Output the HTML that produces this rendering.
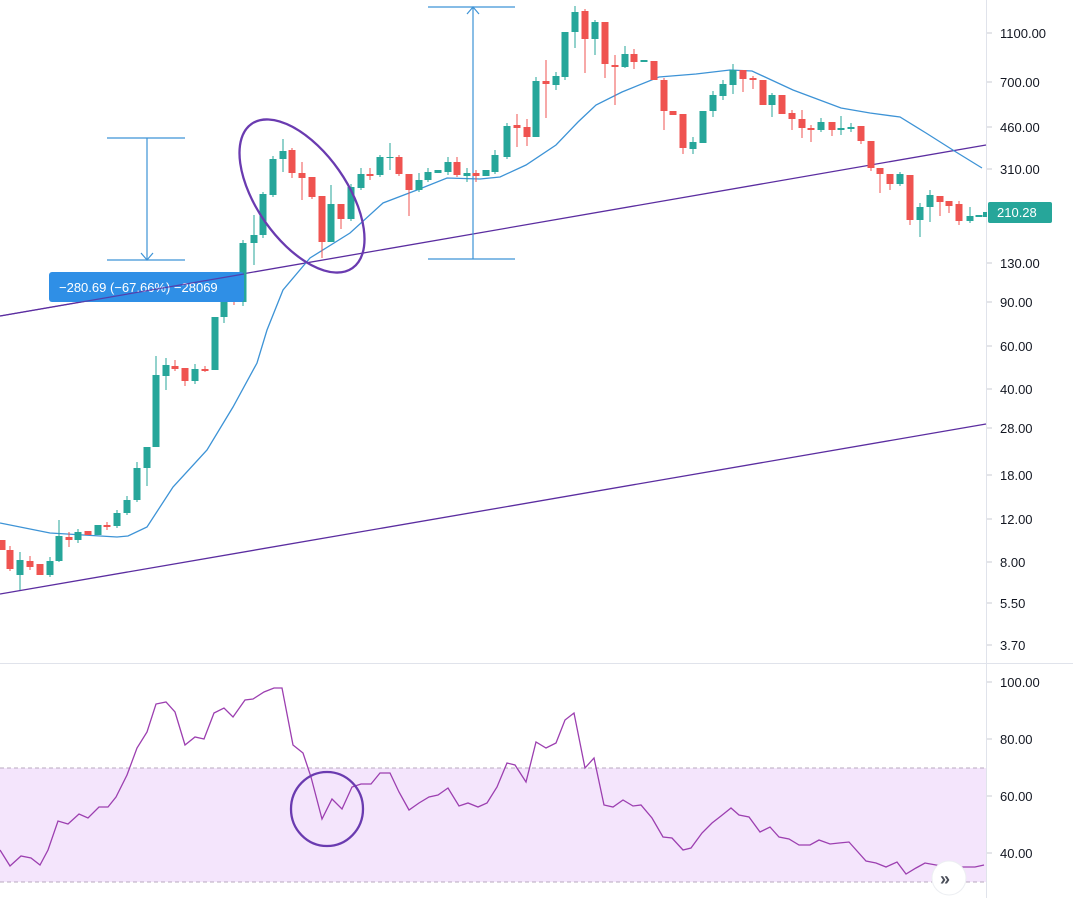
<!DOCTYPE html>
<html><head><meta charset="utf-8"><style>
html,body{margin:0;padding:0;background:#fff;width:1073px;height:898px;overflow:hidden}
svg{display:block}
text{font-family:"Liberation Sans",sans-serif}
</style></head><body>
<svg width="1073" height="898" viewBox="0 0 1073 898" xmlns="http://www.w3.org/2000/svg">
<rect width="1073" height="898" fill="#fff"/>
<!-- RSI band -->
<rect x="0" y="768" width="986" height="114" fill="#f4e5fc"/>
<line x1="0" y1="768" x2="986" y2="768" stroke="#b9a9bf" stroke-dasharray="4,3"/>
<line x1="0" y1="882" x2="986" y2="882" stroke="#b9a9bf" stroke-dasharray="4,3"/>
<!-- separators -->
<line x1="0" y1="663.5" x2="1073" y2="663.5" stroke="#e0e3eb"/>
<line x1="986.5" y1="0" x2="986.5" y2="898" stroke="#e0e3eb"/>
<!-- trend lines -->
<line x1="0" y1="316" x2="986" y2="145" stroke="#5b2da0" stroke-width="1.3"/>
<line x1="0" y1="594" x2="986" y2="424" stroke="#5b2da0" stroke-width="1.3"/>
<!-- MA -->
<polyline fill="none" stroke="#3d93d6" stroke-width="1.3" points="0,523 50,533 117,537 128,536 147,527 173,487 207,450 233,407 257,363 267,330 283,290 310,258 350,233 383,203 417,190 447,178 480,179 500,177 526,165 556,145 578,122 596,105 622,92 659,77 696,74 730,70 752,71 793,90 841,108 870,113 900,117 926,133 956,152 982,168"/>
<!-- measure tools -->
<g stroke="#3d93d6" stroke-width="1.2" fill="none">
<line x1="107" y1="138" x2="185" y2="138"/><line x1="107" y1="260" x2="185" y2="260"/>
<line x1="147" y1="138" x2="147" y2="260"/><polyline points="141,253 147,260 153,253"/>
<line x1="428" y1="7" x2="515" y2="7"/><line x1="428" y1="259" x2="515" y2="259"/>
<line x1="473" y1="7" x2="473" y2="259"/><polyline points="467,14 473,7 479,14"/>
</g>
<!-- candles -->
<g fill="#26a69a">
<rect x="16.5" y="560" width="7" height="15"/><rect x="19.5" y="552" width="1" height="38"/>
<rect x="46.5" y="561" width="7" height="14"/><rect x="49.5" y="557" width="1" height="20"/>
<rect x="55.5" y="536" width="7" height="25"/><rect x="58.5" y="520" width="1" height="42"/>
<rect x="74.5" y="532" width="7" height="8"/><rect x="77.5" y="529" width="1" height="14"/>
<rect x="94.5" y="525" width="7" height="10"/>
<rect x="113.5" y="513" width="7" height="13"/><rect x="116.5" y="510" width="1" height="18"/>
<rect x="123.5" y="500" width="7" height="13"/><rect x="126.5" y="496" width="1" height="19"/>
<rect x="133.5" y="468" width="7" height="32"/><rect x="136.5" y="462" width="1" height="40"/>
<rect x="143.5" y="447" width="7" height="21"/><rect x="146.5" y="447" width="1" height="39"/>
<rect x="152.5" y="375" width="7" height="72"/><rect x="155.5" y="356" width="1" height="91"/>
<rect x="162.5" y="365" width="7" height="11"/><rect x="165.5" y="358" width="1" height="32"/>
<rect x="191.5" y="369" width="7" height="12"/><rect x="194.5" y="364" width="1" height="20"/>
<rect x="211.5" y="317" width="7" height="53"/>
<rect x="220.5" y="300" width="7" height="17"/><rect x="223.5" y="297" width="1" height="26"/>
<rect x="239.5" y="243" width="7" height="59"/><rect x="242.5" y="240" width="1" height="66"/>
<rect x="250.5" y="235" width="7" height="8"/><rect x="253.5" y="215" width="1" height="50"/>
<rect x="259.5" y="194" width="7" height="41"/><rect x="262.5" y="192" width="1" height="46"/>
<rect x="269.5" y="159" width="7" height="36"/><rect x="272.5" y="156" width="1" height="41"/>
<rect x="279.5" y="151" width="7" height="8"/><rect x="282.5" y="139" width="1" height="33"/>
<rect x="327.5" y="204" width="7" height="38"/><rect x="330.5" y="185" width="1" height="57"/>
<rect x="347.5" y="187" width="7" height="32"/><rect x="350.5" y="184" width="1" height="37"/>
<rect x="357.5" y="174" width="7" height="14"/><rect x="360.5" y="168" width="1" height="22"/>
<rect x="376.5" y="157" width="7" height="18"/><rect x="379.5" y="155" width="1" height="22"/>
<rect x="386.5" y="157" width="7" height="1"/><rect x="389.5" y="143" width="1" height="27"/>
<rect x="415.5" y="180" width="7" height="10"/><rect x="418.5" y="173" width="1" height="19"/>
<rect x="424.5" y="172" width="7" height="8"/><rect x="427.5" y="168" width="1" height="14"/>
<rect x="434.5" y="170" width="7" height="3"/>
<rect x="444.5" y="162" width="7" height="10"/><rect x="447.5" y="157" width="1" height="18"/>
<rect x="463.5" y="173" width="7" height="3"/><rect x="466.5" y="168" width="1" height="14"/>
<rect x="482.5" y="170" width="7" height="6"/>
<rect x="491.5" y="155" width="7" height="17"/><rect x="494.5" y="150" width="1" height="24"/>
<rect x="503.5" y="126" width="7" height="31"/><rect x="506.5" y="123" width="1" height="36"/>
<rect x="532.5" y="81" width="7" height="56"/><rect x="535.5" y="77" width="1" height="60"/>
<rect x="552.5" y="76" width="7" height="9"/><rect x="555.5" y="72" width="1" height="18"/>
<rect x="561.5" y="32" width="7" height="45"/><rect x="564.5" y="32" width="1" height="48"/>
<rect x="571.5" y="12" width="7" height="20"/><rect x="574.5" y="6" width="1" height="42"/>
<rect x="591.5" y="22" width="7" height="17"/><rect x="594.5" y="20" width="1" height="35"/>
<rect x="621.5" y="54" width="7" height="13"/><rect x="624.5" y="46" width="1" height="22"/>
<rect x="640.5" y="60" width="7" height="2"/>
<rect x="689.5" y="142" width="7" height="7"/><rect x="692.5" y="137" width="1" height="17"/>
<rect x="699.5" y="111" width="7" height="32"/>
<rect x="709.5" y="95" width="7" height="16"/><rect x="712.5" y="91" width="1" height="26"/>
<rect x="719.5" y="84" width="7" height="12"/><rect x="722.5" y="80" width="1" height="20"/>
<rect x="729.5" y="70" width="7" height="15"/><rect x="732.5" y="64" width="1" height="30"/>
<rect x="768.5" y="95" width="7" height="10"/><rect x="771.5" y="93" width="1" height="24"/>
<rect x="817.5" y="122" width="7" height="8"/><rect x="820.5" y="118" width="1" height="14"/>
<rect x="837.5" y="128" width="7" height="2"/><rect x="840.5" y="116" width="1" height="19"/>
<rect x="847.5" y="127" width="7" height="2"/><rect x="850.5" y="123" width="1" height="9"/>
<rect x="896.5" y="174" width="7" height="10"/><rect x="899.5" y="172" width="1" height="14"/>
<rect x="916.5" y="207" width="7" height="13"/><rect x="919.5" y="203" width="1" height="34"/>
<rect x="926.5" y="195" width="7" height="12"/><rect x="929.5" y="190" width="1" height="32"/>
<rect x="966.5" y="216" width="7" height="5"/><rect x="969.5" y="207" width="1" height="16"/>
<rect x="975.5" y="215" width="7" height="2"/>
<rect x="983" y="212" width="4" height="5"/>
</g>
<g fill="#ef5350">
<rect x="-1.5" y="540" width="7" height="10"/>
<rect x="6.5" y="550" width="7" height="19"/><rect x="9.5" y="546" width="1" height="25"/>
<rect x="26.5" y="561" width="7" height="6"/><rect x="29.5" y="556" width="1" height="14"/>
<rect x="36.5" y="564" width="7" height="11"/>
<rect x="65.5" y="537" width="7" height="3"/><rect x="68.5" y="532" width="1" height="15"/>
<rect x="84.5" y="531" width="7" height="4"/>
<rect x="103.5" y="525" width="7" height="2"/><rect x="106.5" y="522" width="1" height="8"/>
<rect x="171.5" y="366" width="7" height="3"/><rect x="174.5" y="360" width="1" height="11"/>
<rect x="181.5" y="368" width="7" height="13"/><rect x="184.5" y="368" width="1" height="18"/>
<rect x="201.5" y="369" width="7" height="2"/><rect x="204.5" y="366" width="1" height="6"/>
<rect x="230.5" y="297" width="7" height="4"/><rect x="233.5" y="295" width="1" height="10"/>
<rect x="288.5" y="150" width="7" height="23"/><rect x="291.5" y="148" width="1" height="30"/>
<rect x="298.5" y="173" width="7" height="5"/><rect x="301.5" y="162" width="1" height="38"/>
<rect x="308.5" y="177" width="7" height="20"/><rect x="311.5" y="177" width="1" height="22"/>
<rect x="318.5" y="196" width="7" height="46"/><rect x="321.5" y="196" width="1" height="62"/>
<rect x="337.5" y="204" width="7" height="15"/><rect x="340.5" y="204" width="1" height="25"/>
<rect x="366.5" y="174" width="7" height="2"/><rect x="369.5" y="168" width="1" height="12"/>
<rect x="395.5" y="157" width="7" height="17"/><rect x="398.5" y="155" width="1" height="21"/>
<rect x="405.5" y="174" width="7" height="16"/><rect x="408.5" y="174" width="1" height="42"/>
<rect x="453.5" y="162" width="7" height="13"/><rect x="456.5" y="157" width="1" height="20"/>
<rect x="472.5" y="173" width="7" height="3"/><rect x="475.5" y="170" width="1" height="12"/>
<rect x="513.5" y="125" width="7" height="3"/><rect x="516.5" y="114" width="1" height="33"/>
<rect x="523.5" y="127" width="7" height="10"/><rect x="526.5" y="119" width="1" height="27"/>
<rect x="542.5" y="81" width="7" height="3"/><rect x="545.5" y="60" width="1" height="58"/>
<rect x="581.5" y="11" width="7" height="28"/><rect x="584.5" y="9" width="1" height="64"/>
<rect x="601.5" y="22" width="7" height="42"/><rect x="604.5" y="22" width="1" height="56"/>
<rect x="611.5" y="65" width="7" height="2"/><rect x="614.5" y="55" width="1" height="50"/>
<rect x="630.5" y="54" width="7" height="8"/><rect x="633.5" y="49" width="1" height="20"/>
<rect x="650.5" y="61" width="7" height="19"/>
<rect x="660.5" y="80" width="7" height="31"/><rect x="663.5" y="78" width="1" height="52"/>
<rect x="669.5" y="111" width="7" height="4"/>
<rect x="679.5" y="114" width="7" height="34"/><rect x="682.5" y="114" width="1" height="40"/>
<rect x="739.5" y="70" width="7" height="9"/><rect x="742.5" y="70" width="1" height="22"/>
<rect x="749.5" y="78" width="7" height="2"/><rect x="752.5" y="76" width="1" height="13"/>
<rect x="759.5" y="80" width="7" height="25"/>
<rect x="778.5" y="95" width="7" height="19"/>
<rect x="788.5" y="113" width="7" height="6"/><rect x="791.5" y="110" width="1" height="20"/>
<rect x="798.5" y="119" width="7" height="9"/><rect x="801.5" y="110" width="1" height="28"/>
<rect x="807.5" y="128" width="7" height="2"/><rect x="810.5" y="125" width="1" height="17"/>
<rect x="828.5" y="122" width="7" height="8"/><rect x="831.5" y="122" width="1" height="14"/>
<rect x="857.5" y="126" width="7" height="15"/><rect x="860.5" y="126" width="1" height="18"/>
<rect x="867.5" y="141" width="7" height="27"/><rect x="870.5" y="141" width="1" height="30"/>
<rect x="876.5" y="168" width="7" height="6"/><rect x="879.5" y="168" width="1" height="25"/>
<rect x="886.5" y="174" width="7" height="10"/><rect x="889.5" y="174" width="1" height="16"/>
<rect x="906.5" y="175" width="7" height="45"/><rect x="909.5" y="175" width="1" height="50"/>
<rect x="936.5" y="196" width="7" height="6"/><rect x="939.5" y="196" width="1" height="20"/>
<rect x="945.5" y="201" width="7" height="5"/><rect x="948.5" y="201" width="1" height="12"/>
<rect x="955.5" y="204" width="7" height="17"/><rect x="958.5" y="201" width="1" height="24"/>
</g>
<!-- ellipse -->
<ellipse cx="302" cy="196" rx="88" ry="45" transform="rotate(55 302 196)" fill="none" stroke="#6a3bb0" stroke-width="2.3"/>
<!-- measure label -->
<rect x="49" y="272" width="195" height="30" rx="3" fill="#2f8fe6"/>
<text x="59" y="292" font-size="13" fill="#fff">−280.69 (−67.66%) −28069</text>
<line x1="0" y1="316" x2="244" y2="274" stroke="#5b2da0" stroke-width="1.2" opacity="0.8"/>
<!-- price axis -->
<g font-size="13" fill="#131722">
<text x="1000" y="38">1100.00</text>
<text x="1000" y="87">700.00</text>
<text x="1000" y="132">460.00</text>
<text x="1000" y="174">310.00</text>
<text x="1000" y="268">130.00</text>
<text x="1000" y="307">90.00</text>
<text x="1000" y="351">60.00</text>
<text x="1000" y="394">40.00</text>
<text x="1000" y="433">28.00</text>
<text x="1000" y="480">18.00</text>
<text x="1000" y="524">12.00</text>
<text x="1000" y="567">8.00</text>
<text x="1000" y="608">5.50</text>
<text x="1000" y="650">3.70</text>
<text x="1000" y="687">100.00</text>
<text x="1000" y="744">80.00</text>
<text x="1000" y="801">60.00</text>
<text x="1000" y="858">40.00</text>
</g>
<g stroke="#c8cbd3">
<line x1="987" y1="33" x2="992" y2="33"/><line x1="987" y1="82" x2="992" y2="82"/><line x1="987" y1="127" x2="992" y2="127"/><line x1="987" y1="169" x2="992" y2="169"/><line x1="987" y1="263" x2="992" y2="263"/><line x1="987" y1="302" x2="992" y2="302"/><line x1="987" y1="346" x2="992" y2="346"/><line x1="987" y1="389" x2="992" y2="389"/><line x1="987" y1="428" x2="992" y2="428"/><line x1="987" y1="475" x2="992" y2="475"/><line x1="987" y1="519" x2="992" y2="519"/><line x1="987" y1="562" x2="992" y2="562"/><line x1="987" y1="603" x2="992" y2="603"/><line x1="987" y1="645" x2="992" y2="645"/><line x1="987" y1="682" x2="992" y2="682"/><line x1="987" y1="739" x2="992" y2="739"/><line x1="987" y1="796" x2="992" y2="796"/><line x1="987" y1="853" x2="992" y2="853"/>
</g>
<rect x="988" y="202" width="64" height="21" rx="2" fill="#26a69a"/>
<text x="997" y="217" font-size="13" fill="#fff">210.28</text>
<!-- RSI -->
<polyline fill="none" stroke="#9c3fb0" stroke-width="1.3" points="0,850 10,866 21,856 31,858 40,865 48,850 58,821 68,824 79,814 88,818 99,807 108,807 116,797 127,775 137,748 147,732 156,704 166,702 175,712 185,745 195,737 204,739 214,713 224,708 233,717 245,700 253,699 264,692 274,688 282,688 293,745 303,753 311,777 322,819 332,799 342,809 352,787 361,784 371,784 380,773 390,773 399,792 409,810 419,803 429,797 438,795 448,788 459,806 468,803 478,807 487,803 497,787 507,763 515,765 526,782 536,742 546,748 556,743 565,720 574,713 585,768 594,758 604,805 613,807 623,800 633,806 641,805 652,818 663,837 672,838 683,850 691,848 702,833 712,823 721,816 731,808 739,815 749,817 760,832 770,827 779,837 789,839 799,845 810,845 819,840 830,844 839,843 849,842 866,861 876,863 886,867 897,862 906,874 916,868 925,863 936,865 946,867 955,867 966,867 975,867 984,865"/>
<ellipse cx="327" cy="809" rx="36" ry="37" fill="none" stroke="#6a3bb0" stroke-width="2.3"/>
<!-- scroll button -->
<circle cx="949" cy="878" r="17" fill="#fff" stroke="#eceef2"/>
<text x="940" y="885" font-size="18" font-weight="bold" fill="#4a4e59">»</text>
</svg>
</body></html>
